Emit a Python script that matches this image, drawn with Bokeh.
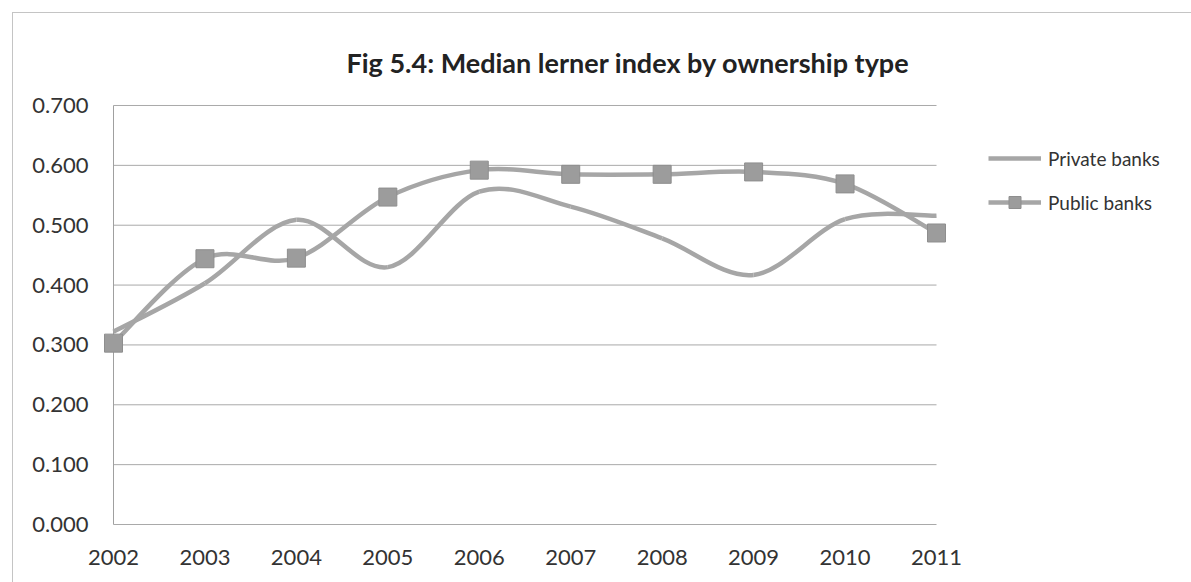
import numpy as np
from bokeh.plotting import figure
from bokeh.models import (Range1d, FixedTicker, NumeralTickFormatter, Legend, LegendItem,
                          ColumnDataSource)
from bokeh.embed import file_html
from bokeh.resources import INLINE

# ---- data ----
years = [2002, 2003, 2004, 2005, 2006, 2007, 2008, 2009, 2010, 2011]
private_banks = [0.322, 0.403, 0.509, 0.430, 0.556, 0.531, 0.478, 0.417, 0.510, 0.516]
public_banks = [0.303, 0.444, 0.445, 0.547, 0.592, 0.585, 0.585, 0.589, 0.569, 0.487]
y_ticks = [0.0, 0.1, 0.2, 0.3, 0.4, 0.5, 0.6, 0.7]
title_text = "Fig 5.4: Median lerner index by ownership type"
series_labels = ["Private banks", "Public banks"]

FONT = "Lato"
LINE_COLOR = "#a6a6a6"
MARKER_COLOR = "#9c9c9c"
TEXT_COLOR = "#333333"
GRID_COLOR = "#a9a9a9"


def smooth_segments(xs, ys):
    """Bezier control points for a smoothed line through the points (Catmull-Rom style)."""
    x = np.asarray(xs, dtype=float)
    y = np.asarray(ys, dtype=float)
    xp = np.r_[x[0], x, x[-1]]
    yp = np.r_[y[0], y, y[-1]]
    n = len(x)
    i = np.arange(n - 1)
    return dict(
        x0=x[:-1], y0=y[:-1], x1=x[1:], y1=y[1:],
        cx0=xp[i + 1] + (xp[i + 2] - xp[i]) / 6.0,
        cy0=yp[i + 1] + (yp[i + 2] - yp[i]) / 6.0,
        cx1=xp[i + 2] - (xp[i + 3] - xp[i + 1]) / 6.0,
        cy1=yp[i + 2] - (yp[i + 3] - yp[i + 1]) / 6.0,
    )


# ---- page geometry (pixels) ----
OFF = 12                       # chart-area border offset in the page
W, H = 1191 - OFF, 582 - OFF
AX_LEFT, AX_RIGHT = 112, 935   # where first / last year sit on the page
FRAME_LEFT = 101               # frame starts a little left of the axis so markers are whole
FRAME_TOP, FRAME_BOTTOM = 98, 529
YPAD = 0.01

px_per_unit = (AX_RIGHT - AX_LEFT) / (years[-1] - years[0])
x_start = years[0] - (AX_LEFT - FRAME_LEFT) / px_per_unit
x_end = x_start + (1191 - FRAME_LEFT) / px_per_unit

p = figure(width=W, height=H, output_backend="svg", toolbar_location=None,
           x_range=Range1d(x_start, x_end),
           y_range=Range1d(y_ticks[0] - YPAD, y_ticks[-1] + YPAD),
           min_border_left=FRAME_LEFT - OFF, min_border_right=0,
           min_border_top=FRAME_TOP - OFF, min_border_bottom=582 - FRAME_BOTTOM,
           background_fill_color="white", border_fill_color="white",
           styles={"margin-left": f"{OFF}px", "margin-top": f"{OFF}px",
                   "border-left": "1px solid #c4c4c4", "border-top": "1px solid #c4c4c4"})
p.outline_line_color = None

# grid lines (drawn from the tick values, between first and last year)
p.xgrid.grid_line_color = None
p.ygrid.grid_line_color = None
p.segment(x0=[years[0]] * len(y_ticks), x1=[years[-1]] * len(y_ticks),
          y0=y_ticks, y1=y_ticks, line_color=GRID_COLOR, line_width=1)
# value-axis line at the first category
p.segment(x0=[years[0]], x1=[years[0]], y0=[y_ticks[0]], y1=[y_ticks[-1]],
          line_color="#a0a0a0", line_width=1)

# axes
p.yaxis.ticker = FixedTicker(ticks=y_ticks)
p.yaxis.formatter = NumeralTickFormatter(format="0.000")
p.xaxis.ticker = FixedTicker(ticks=years)
for ax in (p.xaxis[0], p.yaxis[0]):
    ax.axis_line_color = None
    ax.major_tick_line_color = None
    ax.minor_tick_line_color = None
    ax.major_tick_out = 0
    ax.major_tick_in = 0
    ax.major_label_text_font = FONT
    ax.major_label_text_font_size = "22px"
    ax.major_label_text_color = TEXT_COLOR
p.yaxis.major_label_standoff = 14
p.xaxis.major_label_standoff = 19

# series
priv_src = ColumnDataSource(smooth_segments(years, private_banks))
pub_src = ColumnDataSource(smooth_segments(years, public_banks))
r_priv = p.bezier(x0="x0", y0="y0", x1="x1", y1="y1", cx0="cx0", cy0="cy0",
                  cx1="cx1", cy1="cy1", source=priv_src,
                  line_color=LINE_COLOR, line_width=4.5)
r_pub = p.bezier(x0="x0", y0="y0", x1="x1", y1="y1", cx0="cx0", cy0="cy0",
                 cx1="cx1", cy1="cy1", source=pub_src,
                 line_color=LINE_COLOR, line_width=4.5)
r_pub_m = p.scatter(years, public_banks, marker="square", size=18,
                    fill_color=MARKER_COLOR, line_color="#8e8e8e", line_width=1)

# legend (inside the wide frame, right of the series)
legend = Legend(items=[LegendItem(label=series_labels[0], renderers=[r_priv]),
                       LegendItem(label=series_labels[1], renderers=[r_pub, r_pub_m])],
                location=(987 - FRAME_LEFT, FRAME_BOTTOM - 216), orientation="vertical",
                glyph_width=53, glyph_height=30, label_height=30, spacing=14,
                label_standoff=7, padding=0, margin=0,
                border_line_color=None, background_fill_alpha=0,
                label_text_font=FONT, label_text_font_size="19px",
                label_text_color=TEXT_COLOR)
p.add_layout(legend)

# title
p.title.text = title_text
p.title.align = "left"
p.title.offset = 345 - FRAME_LEFT
p.title.standoff = 41
p.title.text_font = FONT
p.title.text_font_style = "bold"
p.title.text_font_size = "27px"
p.title.text_color = "#222222"

open("out.html", "w").write(file_html(p, INLINE))
